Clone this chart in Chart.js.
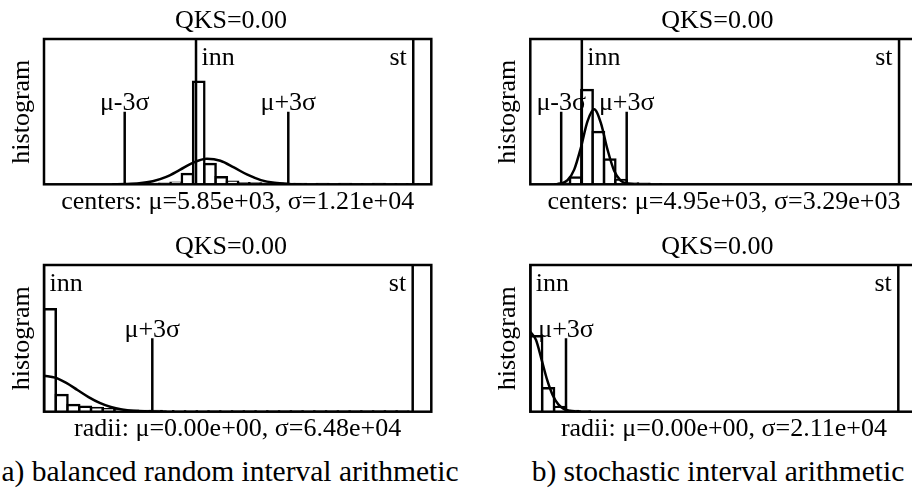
<!DOCTYPE html>
<html><head><meta charset="utf-8">
<script src="https://cdn.jsdelivr.net/npm/chart.js@4.4.1/dist/chart.umd.min.js"></script>
<style>
html,body{margin:0;padding:0;background:#fff;overflow:hidden;width:912px;height:493px;position:relative;}
canvas{position:absolute;}
.cap{position:absolute;font-family:"Liberation Serif",serif;font-size:29.5px;line-height:29.5px;white-space:nowrap;color:#000;transform:translateX(-50%);}
</style></head><body>
<canvas id="c0" width="440" height="219" style="left:0px;top:0px"></canvas>
<canvas id="c1" width="440" height="219" style="left:486px;top:0px"></canvas>
<canvas id="c2" width="440" height="219" style="left:0px;top:226px"></canvas>
<canvas id="c3" width="440" height="219" style="left:486px;top:226px"></canvas>
<div class="cap" id="capA" style="left:230px;top:457px"></div>
<div class="cap" id="capB" style="left:718px;top:457px"></div>
<script>
// ---------- texts ----------
const panelTitles = ["QKS=0.00", "QKS=0.00", "QKS=0.00", "QKS=0.00"];
const yAxisTitle = "histogram";
const xCaptions = [
  "centers: μ=5.85e+03, σ=1.21e+04",
  "centers: μ=4.95e+03, σ=3.29e+03",
  "radii: μ=0.00e+00, σ=6.48e+04",
  "radii: μ=0.00e+00, σ=2.11e+04"
];
const subCaptions = ["a) balanced random interval arithmetic", "b) stochastic interval arithmetic"];
const refLabels = ["inn", "st"];

// ---------- a) centers (x in units of 1e3) ----------
const aCentersRange = [-66.26, 105.61];
const aCentersBinStart = -30.1;
const aCentersBinWidth = 5.0;
const aCentersHist = [0.001, 0.001, 0.002, 0.004, 0.011, 0.071, 0.706, 0.140, 0.048, 0.018, 0.008, 0.005, 0.004, 0.003, 0.002, 0.002, 0.001, 0.002, 0.001, 0.002, 0.001, 0.001, 0.002, 0.001, 0.001, 0.001];
const aCentersFitX = [-36, -30, -24, -18, -12, -6, 0, 6, 12, 18, 24, 30, 36, 42, 48];
const aCentersFitY = [0.0003, 0.0016, 0.0066, 0.021, 0.051, 0.099, 0.149, 0.175, 0.162, 0.116, 0.066, 0.029, 0.010, 0.0027, 0.0006];
const aCentersRefs = [1.2, 97.6];            // inn, st
const aCentersSigma = [-30.45, 42.15];       // mu-3sigma, mu+3sigma
const aCentersSigmaLabels = ["μ-3σ", "μ+3σ"];

// ---------- b) centers ----------
const bCentersRange = [-14.23, 102.49];
const bCentersBinStart = -5.69;
const bCentersBinWidth = 3.42;
const bCentersHist = [0.003, 0.047, 0.649, 0.360, 0.170, 0.030, 0.006, 0.003, 0.001];
const bCentersFitX = [-7, -5, -3, -1, 1, 3, 5, 7, 9, 11, 13, 15, 17];
const bCentersFitY = [0.0003, 0.005, 0.028, 0.101, 0.251, 0.433, 0.516, 0.425, 0.242, 0.095, 0.026, 0.005, 0.0006];
const bCentersRefs = [1.3, 96.9];
const bCentersSigma = [-4.92, 14.82];
const bCentersSigmaLabels = ["μ-3σ", "μ+3σ"];

// ---------- a) radii ----------
const aRadiiRange = [0, 695.2];
const aRadiiBinStart = 0;
const aRadiiBinWidth = 21.1;
const aRadiiHist = [0.698, 0.114, 0.046, 0.034, 0.025, 0.017, 0.011, 0.007, 0.005, 0.004, 0.003, 0.002, 0.002, 0.002, 0.001, 0.002, 0.001, 0.001, 0.002, 0.001, 0.001, 0.001, 0.002, 0.001, 0.001, 0.001, 0.001, 0.001, 0.001, 0.001, 0.001];
const aRadiiFitX = [0, 20, 40, 60, 80, 100, 120, 140, 160, 180, 200, 220];
const aRadiiFitY = [0.246, 0.232, 0.196, 0.148, 0.0996, 0.060, 0.032, 0.0154, 0.0066, 0.0025, 0.0009, 0.0003];
const aRadiiRefs = [0, 661.8];
const aRadiiSigma = [194.4];
const aRadiiSigmaLabels = ["μ+3σ"];

// ---------- b) radii ----------
const bRadiiRange = [0, 686.7];
const bRadiiBinStart = 0;
const bRadiiBinWidth = 21.1;
const bRadiiHist = [0.514, 0.160, 0.032, 0.004, 0.001];
const bRadiiFitX = [0, 10, 20, 30, 40, 50, 60, 70, 80, 90];
const bRadiiFitY = [0.545, 0.490, 0.355, 0.215, 0.110, 0.048, 0.018, 0.006, 0.002, 0.0005];
const bRadiiRefs = [0, 652.5];
const bRadiiSigma = [63.3];
const bRadiiSigmaLabels = ["μ+3σ"];

// ---------- drawing ----------
const FONT = '"Liberation Serif", "Times New Roman", serif';
Chart.defaults.font.family = FONT;
Chart.defaults.color = '#000';

const framePlugin = {
  id: 'frameAnnot',
  afterDatasetsDraw(chart) {
    const p = chart.options.plugins.frameAnnot;
    const {ctx, chartArea: a} = chart;
    const xs = chart.scales.x, ys = chart.scales.y;
    ctx.save();
    ctx.strokeStyle = '#000';
    ctx.lineWidth = 2.5;
    ctx.strokeRect(a.left, a.top, a.right - a.left, a.bottom - a.top);
    ctx.fillStyle = '#000';
    ctx.font = '26px ' + FONT;
    ctx.textBaseline = 'alphabetic';
    ctx.textAlign = 'center';
    ctx.fillText(p.title, a.left + 187, a.top - 11);
    ctx.textAlign = 'left';
    ctx.fillText(refLabels[0], xs.getPixelForValue(p.refs[0]) + 5.5, a.top + 26.3);
    ctx.textAlign = 'right';
    ctx.fillText(refLabels[1], xs.getPixelForValue(p.refs[1]) - 6.5, a.top + 26.3);
    ctx.textAlign = 'center';
    p.sigma.forEach((v, i) => {
      ctx.fillText(p.sigmaLabels[i], xs.getPixelForValue(v), ys.getPixelForValue(0.5) - 1.5);
    });
    ctx.restore();
  }
};

function makePanel(id, title, caption, range, binStart, binWidth, hist, fitX, fitY, refs, sigma, sigmaLabels, pad) {
  const bars = hist.map((v, i) => ({x: binStart + binWidth * (i + 0.5), y: v}));
  const fit = fitX.map((x, i) => ({x: x, y: fitY[i]}));
  const lineStyle = {type: 'line', borderColor: '#000', borderWidth: 2.5, pointRadius: 0, fill: false, tension: 0};
  const datasets = [
    {type: 'bar', data: bars, backgroundColor: '#fff', borderColor: '#000', borderWidth: 2.5,
     inflateAmount: 1.25, categoryPercentage: 1, barPercentage: 1, borderSkipped: 'start', order: 5},
    Object.assign({}, lineStyle, {data: fit, cubicInterpolationMode: 'monotone', order: 2})
  ];
  refs.forEach(v => datasets.push(Object.assign({}, lineStyle, {data: [{x: v, y: 0}, {x: v, y: 1}], order: 1})));
  sigma.forEach(v => datasets.push(Object.assign({}, lineStyle, {data: [{x: v, y: 0}, {x: v, y: 0.5}], order: 1})));
  new Chart(document.getElementById(id), {
    type: 'bar',
    data: {datasets: datasets},
    plugins: [framePlugin],
    options: {
      responsive: false, animation: false, devicePixelRatio: 1,
      layout: {padding: pad},
      plugins: {
        legend: {display: false}, tooltip: {enabled: false}, title: {display: false},
        frameAnnot: {title: title, refs: refs, sigma: sigma, sigmaLabels: sigmaLabels}
      },
      scales: {
        x: {type: 'linear', min: range[0], max: range[1], offset: false,
            grid: {display: false, drawTicks: false}, border: {display: false}, ticks: {display: false},
            title: {display: true, text: caption, color: '#000', font: {size: 26, lineHeight: 1.2}, padding: {top: 2, bottom: 0}}},
        y: {type: 'linear', min: 0, max: 1,
            grid: {display: false, drawTicks: false}, border: {display: false}, ticks: {display: false},
            title: {display: true, text: yAxisTitle, color: '#000', font: {size: 26, lineHeight: 1.2}, padding: {top: 6.7, bottom: 6.1}}}
      }
    }
  });
}

makePanel('c0', panelTitles[0], xCaptions[0], aCentersRange, aCentersBinStart, aCentersBinWidth, aCentersHist,
  aCentersFitX, aCentersFitY, aCentersRefs, aCentersSigma, aCentersSigmaLabels, {left: 0, right: 8.7, top: 39, bottom: 1.5});
makePanel('c1', panelTitles[1], xCaptions[1], bCentersRange, bCentersBinStart, bCentersBinWidth, bCentersHist,
  bCentersFitX, bCentersFitY, bCentersRefs, bCentersSigma, bCentersSigmaLabels, {left: 0.3, right: 8.4, top: 39, bottom: 1.5});
makePanel('c2', panelTitles[2], xCaptions[2], aRadiiRange, aRadiiBinStart, aRadiiBinWidth, aRadiiHist,
  aRadiiFitX, aRadiiFitY, aRadiiRefs, aRadiiSigma, aRadiiSigmaLabels, {left: 0, right: 8.7, top: 39, bottom: 0.1});
makePanel('c3', panelTitles[3], xCaptions[3], bRadiiRange, bRadiiBinStart, bRadiiBinWidth, bRadiiHist,
  bRadiiFitX, bRadiiFitY, bRadiiRefs, bRadiiSigma, bRadiiSigmaLabels, {left: 0.3, right: 8.4, top: 39, bottom: 0.1});

document.getElementById('capA').textContent = subCaptions[0];
document.getElementById('capB').textContent = subCaptions[1];
</script>
</body></html>
